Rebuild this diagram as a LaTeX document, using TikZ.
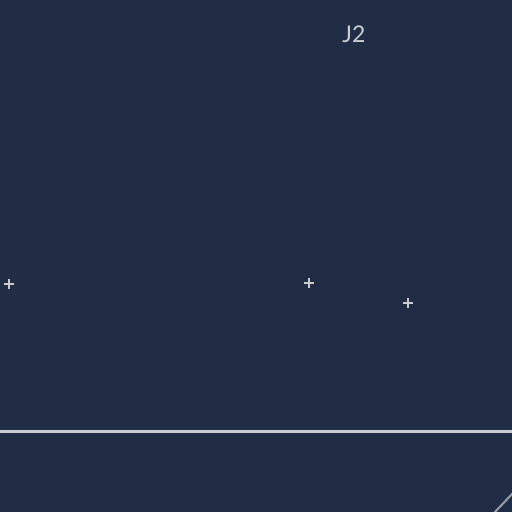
\documentclass[tikz,border=0pt]{standalone}
\usepackage{fontspec}
\setmainfont{Lato}
\definecolor{bgnavy}{HTML}{212D45}
\definecolor{inkgrey}{HTML}{C9CDD3}
\begin{document}
\begin{tikzpicture}[x=1pt, y=-1pt, every node/.style={font=\fontsize{23}{26}\selectfont, text=inkgrey}]
  \tikzset{plusmark/.style={draw=inkgrey, line width=2.4pt}}
  \fill[bgnavy] (0,0) rectangle (512,512);
  \useasboundingbox (0,0) rectangle (512,512);
  \node[inner sep=0pt] (jtwo) at (354,34) {J2};
  \coordinate (pa) at (9,284);
  \coordinate (pb) at (309,283);
  \coordinate (pc) at (408,303);
  \foreach \p in {pa,pb,pc}
    \draw[plusmark] ([xshift=-5pt]\p) -- ([xshift=5pt]\p) ([yshift=-5pt]\p) -- ([yshift=5pt]\p);
  \coordinate (floorl) at (0,431);
  \coordinate (floorr) at (512,431);
  \draw[inkgrey, line width=3pt] (floorl) -- (floorr);
  \coordinate (diaga) at (513,493);
  \coordinate (diagb) at (494,513);
  \draw[inkgrey!70!bgnavy, line width=2pt] (diaga) -- (diagb);
\end{tikzpicture}
\end{document}
